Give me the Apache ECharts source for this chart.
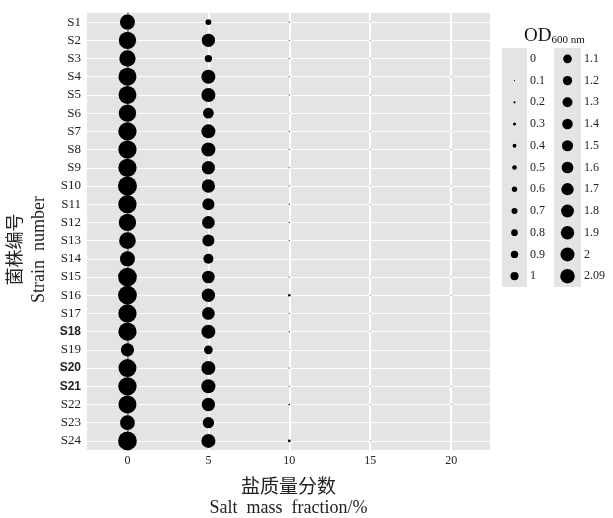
<!DOCTYPE html>
<html>
<head>
<meta charset="utf-8">
<script src="https://cdn.jsdelivr.net/npm/echarts@6/dist/echarts.min.js"></script>
<style>
  html, body { margin: 0; padding: 0; background: #fff; }
  #chart { width: 613px; height: 518px; }
</style>
</head>
<body>
<div id="chart"></div>
<script>
const strains = ['S1', 'S2', 'S3', 'S4', 'S5', 'S6', 'S7', 'S8', 'S9', 'S10', 'S11', 'S12',
  'S13', 'S14', 'S15', 'S16', 'S17', 'S18', 'S19', 'S20', 'S21', 'S22', 'S23', 'S24']
const boldStrains = ['S18', 'S20', 'S21']
const saltLevels = [0, 5, 10, 15, 20]
const xTicks = [0, 5, 10, 15, 20]

// OD600 per strain, one array per salt mass fraction
const od0 = [1.56, 1.86, 1.73, 1.95, 1.95, 1.86, 1.99, 1.99, 1.99, 2.09, 1.99, 1.86,
  1.78, 1.56, 2.05, 2.05, 1.99, 1.99, 1.34, 1.95, 1.99, 1.95, 1.52, 2.05]
const od5 = [0.49, 1.34, 0.63, 1.43, 1.43, 1.02, 1.43, 1.43, 1.34, 1.34, 1.18, 1.26,
  1.18, 0.94, 1.26, 1.34, 1.26, 1.43, 0.79, 1.43, 1.43, 1.34, 1.09, 1.43]
const od10 = [0.06, 0.06, 0.06, 0.06, 0.06, 0.04, 0.06, 0.06, 0.06, 0.06, 0.07, 0.06,
  0.06, 0, 0.06, 0.17, 0.06, 0.06, 0.04, 0.06, 0.06, 0.1, 0, 0.18]
const od15 = [0.05, 0.05, 0.05, 0.05, 0.05, 0, 0.05, 0.05, 0, 0.05, 0.05, 0,
  0, 0, 0.05, 0.05, 0.04, 0.04, 0, 0, 0.05, 0.04, 0, 0.05]
const od20 = [0, 0, 0, 0.05, 0, 0, 0.04, 0.05, 0, 0.04, 0.05, 0,
  0, 0, 0.05, 0.05, 0, 0, 0, 0, 0.05, 0.04, 0, 0]

const legendLeft = ['0', '0.1', '0.2', '0.3', '0.4', '0.5', '0.6', '0.7', '0.8', '0.9', '1']
const legendRight = ['1.1', '1.2', '1.3', '1.4', '1.5', '1.6', '1.7', '1.8', '1.9', '2', '2.09']

const odMax = 2.09
const serif = 'Liberation Serif'
const cjk = 'Noto Sans CJK SC'

function sizeOf(v, maxSize) {
  if (v <= 0) return 0
  return maxSize * Math.pow(v / odMax, 0.8)
}

const odBySalt = [od0, od5, od10, od15, od20]
const plotData = []
saltLevels.forEach((s, i) => {
  odBySalt[i].forEach((v, j) => {
    if (v > 0) plotData.push([s, strains[j], v])
  })
})

function legendAxis(gridIndex, labels) {
  return {
    type: 'category',
    gridIndex: gridIndex,
    data: labels,
    inverse: true,
    position: 'right',
    axisLine: { show: false },
    axisTick: { show: false },
    axisLabel: { margin: 3, fontFamily: serif, fontSize: 12, color: '#222' }
  }
}

function legendX(gridIndex) {
  return { type: 'value', gridIndex: gridIndex, min: -1, max: 1, show: false }
}

const chart = echarts.init(document.getElementById('chart'))

chart.setOption({
  animation: false,
  backgroundColor: '#fff',
  title: {
    text: '{od|OD}{sub|600 nm}',
    left: 519,
    top: 21,
    textStyle: {
      fontWeight: 'normal',
      rich: {
        od: { fontFamily: serif, fontSize: 19, fontWeight: 'normal', color: '#111', lineHeight: 20 },
        sub: { fontFamily: serif, fontSize: 11, fontWeight: 'normal', color: '#111', verticalAlign: 'bottom', lineHeight: 9 }
      }
    }
  },
  grid: [
    { left: 87, top: 13, width: 403, height: 437, show: true, backgroundColor: '#e4e4e4', borderWidth: 0, outerBoundsMode: 'none' },
    { left: 502, top: 48, width: 25, height: 239, show: true, backgroundColor: '#e4e4e4', borderWidth: 0, outerBoundsMode: 'none' },
    { left: 554, top: 48, width: 27, height: 239, show: true, backgroundColor: '#e4e4e4', borderWidth: 0, outerBoundsMode: 'none' }
  ],
  xAxis: [
    {
      type: 'value',
      min: -2.5,
      max: 22.4,
      splitNumber: 5,
      name: '{cn|盐质量分数}\n{en|Salt  mass  fraction/%}',
      nameLocation: 'middle',
      nameGap: 24,
      nameTextStyle: {
        rich: {
          cn: { fontFamily: cjk, fontSize: 19, color: '#222', lineHeight: 23 },
          en: { fontFamily: serif, fontSize: 18, color: '#222', lineHeight: 22 }
        }
      },
      axisLine: { lineStyle: { color: '#6e6e6e', width: 1.5 } },
      axisTick: { customValues: xTicks, length: 3, lineStyle: { color: '#6e6e6e' } },
      axisLabel: {
        customValues: xTicks,
        margin: 5,
        fontFamily: serif,
        fontSize: 12,
        color: '#222',
        formatter: v => (v % 5 === 0 ? String(v) : '')
      },
      splitLine: { show: true, lineStyle: { color: '#ffffff', width: 2 } }
    },
    legendX(1),
    legendX(2)
  ],
  yAxis: [
    {
      type: 'category',
      data: strains,
      inverse: true,
      name: '{cn|菌株编号}\n{en|Strain  number}',
      nameLocation: 'middle',
      nameGap: 33,
      nameTextStyle: {
        padding: [0, 36, 0, 0],
        rich: {
          cn: { fontFamily: cjk, fontSize: 18, color: '#222', lineHeight: 29 },
          en: { fontFamily: serif, fontSize: 18, color: '#222', lineHeight: 22 }
        }
      },
      axisLine: { lineStyle: { color: '#6e6e6e', width: 1.5 } },
      axisTick: { alignWithLabel: true, length: 4, lineStyle: { color: '#6e6e6e' } },
      axisLabel: {
        margin: 6,
        fontFamily: serif,
        fontSize: 13,
        color: '#222',
        formatter: v => (boldStrains.includes(v) ? '{b|' + v + '}' : v),
        rich: {
          b: { fontFamily: 'Liberation Sans', fontWeight: 'bold', fontSize: 12, color: '#222' }
        }
      },
      splitLine: { show: true, alignWithLabel: true, lineStyle: { color: '#ffffff', width: 1.2 } }
    },
    legendAxis(1, legendLeft),
    legendAxis(2, legendRight)
  ],
  series: [
    {
      type: 'scatter',
      xAxisIndex: 0,
      yAxisIndex: 0,
      data: plotData,
      symbolSize: d => sizeOf(d[2], 19),
      itemStyle: { color: '#000', opacity: 1 },
      silent: true
    },
    {
      type: 'scatter',
      xAxisIndex: 1,
      yAxisIndex: 1,
      data: legendLeft.map(l => [0, l]),
      symbolSize: d => sizeOf(parseFloat(d[1]), 14.5),
      itemStyle: { color: '#000', opacity: 1 },
      silent: true
    },
    {
      type: 'scatter',
      xAxisIndex: 2,
      yAxisIndex: 2,
      data: legendRight.map(l => [0, l]),
      symbolSize: d => sizeOf(parseFloat(d[1]), 14.5),
      itemStyle: { color: '#000', opacity: 1 },
      silent: true
    }
  ]
})
</script>
</body>
</html>
